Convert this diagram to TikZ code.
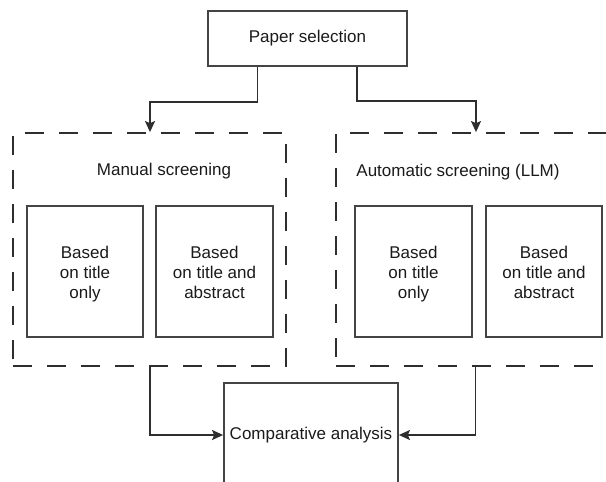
\documentclass[tikz,border=0pt]{standalone}
\usepackage{fontspec}
\setmainfont{Liberation Sans}
\usetikzlibrary{arrows.meta}
\definecolor{linec}{HTML}{2E2E2E}
\definecolor{boxc}{HTML}{444444}
\definecolor{txtc}{HTML}{1A1A1A}
\newcommand{\topsp}{\rule{0pt}{19pt}}
\tikzset{
  solidbox/.style={draw=boxc, line width=1.8pt, rectangle, inner sep=0pt, align=center, text=txtc},
  dashbox/.style={draw=linec, line width=1.8pt, rectangle, inner sep=0pt, dash pattern=on 19pt off 15pt},
  lbl/.style={inner sep=0pt, text=txtc},
  conn/.style={draw=linec, line width=1.5pt, -{Stealth[length=11pt,width=10pt,inset=2pt]}}
}
\begin{document}
\begin{tikzpicture}[x=1pt,y=-1pt,font=\fontsize{17}{20}\selectfont]
\useasboundingbox (0,0) rectangle (606,482);
\node[solidbox, minimum width=199pt, minimum height=55pt] (paper) at (307.5,38.5) {Paper selection};
\node[dashbox, minimum width=273pt, minimum height=233pt] (man) at (149.5,249.5) {};
\node[dashbox, minimum width=274pt, minimum height=233pt] (auto) at (473,249.5) {};
\node[lbl] (manlbl) at (164,171) {Manual screening};
\node[lbl] (autolbl) at (458,172) {Automatic screening (LLM)};
\node[solidbox, minimum width=116pt, minimum height=131pt] (b1) at (85,271.5) {\topsp Based\\on title\\only\strut};
\node[solidbox, minimum width=117pt, minimum height=131pt] (b2) at (214.5,271.5) {\topsp Based\\on title and\\abstract\strut};
\node[solidbox, minimum width=117pt, minimum height=131pt] (b3) at (413.5,271.5) {\topsp Based\\on title\\only\strut};
\node[solidbox, minimum width=116pt, minimum height=131pt] (b4) at (544,271.5) {\topsp Based\\on title and\\abstract\strut};
\node[solidbox, minimum width=174pt, minimum height=104pt] (comp) at (311,435) {Comparative analysis};
\draw[conn] ([xshift=-50pt]paper.south) -- ++(0,35) -| ([xshift=0.5pt]man.north);
\draw[conn] ([xshift=49.5pt]paper.south) -- ++(0,34) -| ([xshift=3pt]auto.north);
\draw[conn] ([xshift=0.5pt]man.south) |- (comp.west);
\draw[conn] ([xshift=2.5pt]auto.south) |- (comp.east);
\end{tikzpicture}
\end{document}
